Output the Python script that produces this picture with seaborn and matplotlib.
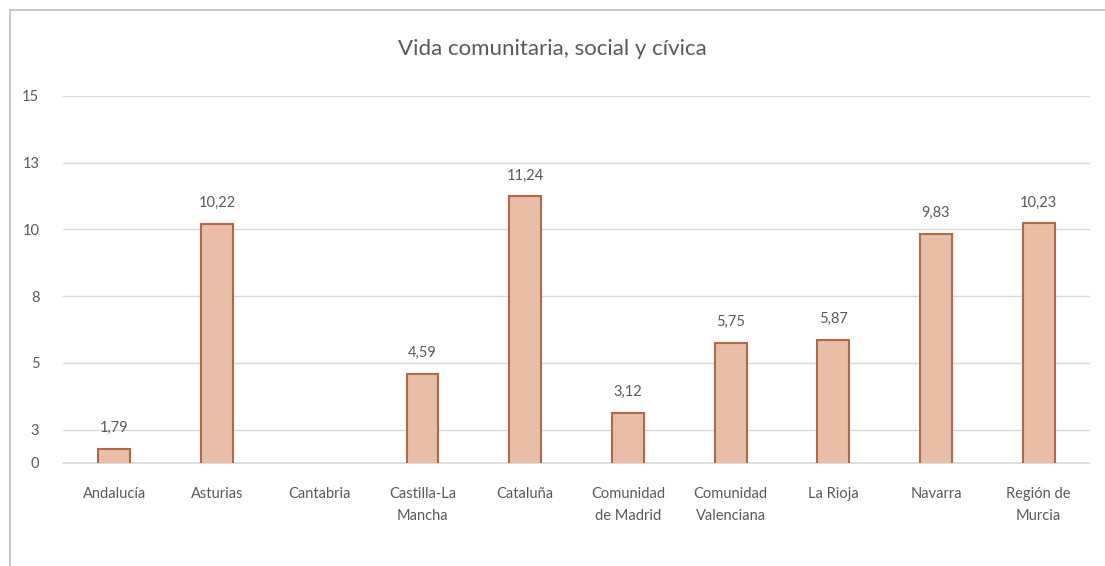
import pandas as pd
import seaborn as sns
import matplotlib.pyplot as plt
from matplotlib.lines import Line2D

# Chart data
regions = ["Andalucía", "Asturias", "Cantabria", "Castilla-La\nMancha", "Cataluña",
           "Comunidad\nde Madrid", "Comunidad\nValenciana", "La Rioja", "Navarra",
           "Región de\nMurcia"]
values = [1.79, 10.22, None, 4.59, 11.24, 3.12, 5.75, 5.87, 9.83, 10.23]
ytick_vals = [1.25, 2.5, 5, 7.5, 10, 12.5, 15]
ytick_labels = ["0", "3", "5", "8", "10", "13", "15"]

df = pd.DataFrame({"region": regions, "value": values})

sns.set_style("white")
plt.rcParams['font.family'] = ['Lato', 'DejaVu Sans']
text_col = "#595959"

fig = plt.figure(figsize=(11.05, 5.66), dpi=100)
ax = fig.add_axes([0.057, 0.182, 0.9295, 0.6484])

sns.barplot(data=df, x="region", y="value", color="#E9BDA6", width=0.31,
            edgecolor="#B06A48", linewidth=1.5, saturation=1, ax=ax, zorder=3)

ax.set_ylim(1.25, 15)
ax.set_yticks(ytick_vals)
ax.set_yticklabels(ytick_labels)
ax.yaxis.grid(True, color="#D9D9D9", linewidth=1, zorder=0)
ax.axhline(1.25, color="#D9D9D9", linewidth=1.2, zorder=2, clip_on=False)
ax.set_xlim(-0.5, len(regions) - 0.5)
for s in ax.spines.values():
    s.set_visible(False)
ax.tick_params(axis="both", length=0, colors=text_col, labelsize=10.5)
ax.tick_params(axis="y", pad=17)
ax.tick_params(axis="x", pad=17)
for lbl in ax.get_xticklabels():
    lbl.set_linespacing(1.8)
ax.set_xlabel("")
ax.set_ylabel("")

# data labels
for i, v in enumerate(values):
    if v is None or pd.isna(v):
        continue
    ax.annotate(f"{v:.2f}".replace(".", ","), (i, v), xytext=(0, 10),
                textcoords="offset points", ha="center", va="bottom",
                fontsize=10.5, color=text_col)

fig.text(0.5, 0.913, "Vida comunitaria, social y cívica", ha="center", va="center",
         fontsize=16, color=text_col)

# chart frame (partial border visible in screenshot)
fig.add_artist(Line2D([0.009, 0.009], [0, 0.982], color="#BFBFBF", linewidth=1.2))
fig.add_artist(Line2D([0.009, 1.0], [0.982, 0.982], color="#BFBFBF", linewidth=1.2))

fig.savefig("out.png", dpi=100)
